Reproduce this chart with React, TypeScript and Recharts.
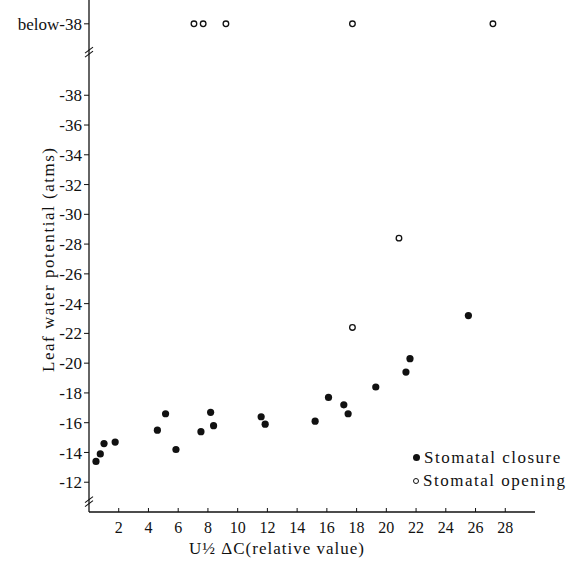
import { ScatterChart, Scatter, XAxis, YAxis, ReferenceDot } from "recharts";

// "below-38" row is drawn at this position on the reversed y scale
const BELOW = -42.8;

const closureX = [0.47, 0.76, 1.01, 1.76, 4.6, 5.15, 5.85, 7.53, 8.18, 8.38, 11.58, 11.85, 15.21, 16.11, 17.14, 17.43, 19.29, 21.32, 21.59, 25.52];
const closureY = [-13.4, -13.9, -14.6, -14.7, -15.5, -16.6, -14.2, -15.4, -16.7, -15.8, -16.4, -15.9, -16.1, -17.7, -17.2, -16.6, -18.4, -19.4, -20.3, -23.2];

const openingX = [7.06, 7.68, 9.21, 17.72, 27.17, 17.72, 20.85];
const openingY = [BELOW, BELOW, BELOW, BELOW, BELOW, -22.4, -28.4];

const xTicks = [2, 4, 6, 8, 10, 12, 14, 16, 18, 20, 22, 24, 26, 28];
const yTicks = [BELOW, -38, -36, -34, -32, -30, -28, -26, -24, -22, -20, -18, -16, -14, -12];
const breaks = [-40.9, -10.7];

const closure = closureX.map((x, i) => ({ x, y: closureY[i] }));
const opening = openingX.map((x, i) => ({ x, y: openingY[i] }));

const FONT = "Times New Roman, Liberation Serif, DejaVu Serif, serif";
const INK = "#111";

const ClosedDot = (p: any) => <circle cx={p.cx} cy={p.cy} r={3.6} fill={INK} />;
const OpenDot = (p: any) => (
	<circle cx={p.cx} cy={p.cy} r={2.8} fill="#fff" stroke={INK} strokeWidth={1.3} />
);

const BreakMark = (p: any) => (
	<g stroke={INK} strokeWidth={1.1}>
		<line x1={p.cx - 4} y1={p.cy + 1} x2={p.cx + 4} y2={p.cy - 5} />
		<line x1={p.cx - 4} y1={p.cy + 5} x2={p.cx + 4} y2={p.cy - 1} />
	</g>
);

const XTick = ({ x, y, payload }: any) => (
	<g>
		<line x1={x} y1={y} x2={x} y2={y - 4} stroke={INK} />
		<text x={x} y={y + 21} textAnchor="middle" fontSize={16} fontFamily={FONT} fill={INK}>
			{payload.value}
		</text>
	</g>
);

// legend sits over the plot, so it is kept out of the chart's layout
const LegendBox = () => (
	<div
		style={{
			position: "absolute",
			left: 413,
			top: 446,
			fontFamily: FONT,
			fontSize: 17,
			color: INK,
			letterSpacing: 1.5,
			lineHeight: "23px"
		}}
	>
		<div>
			<span style={{ display: "inline-block", width: 7, height: 7, borderRadius: 4, background: INK, marginRight: 4, verticalAlign: 2 }} />
			Stomatal closure
		</div>
		<div>
			<span style={{ display: "inline-block", width: 4, height: 4, borderRadius: 4, border: `1.3px solid ${INK}`, marginRight: 4, verticalAlign: 2 }} />
			Stomatal opening
		</div>
	</div>
);

export default function App() {
	return (
		<div style={{ position: "absolute", left: 0, top: 0, width: 583, height: 562, background: "#fff" }}>
			<ScatterChart width={583} height={562} margin={{ top: 0, right: 48, bottom: 20, left: 0 }}>
				<XAxis
					type="number"
					dataKey="x"
					domain={[0, 30]}
					ticks={xTicks}
					height={30}
					tickSize={0}
					tickMargin={0}
					tickLine={false}
					tick={<XTick />}
					axisLine={{ stroke: INK, strokeWidth: 1.3 }}
					label={{
						content: () => (
							<text x={277} y={554} textAnchor="middle" fontSize={17} fontFamily={FONT} fill={INK} letterSpacing={1}>
								U½ ΔC(relative value)
							</text>
						)
					}}
				/>
				<YAxis
					type="number"
					dataKey="y"
					domain={[-44.4, -10]}
					reversed
					ticks={yTicks}
					interval={0}
					width={89}
					tickSize={5}
					tickMargin={2}
					tickFormatter={(v: number) => (v === BELOW ? "below-38" : String(v))}
					tick={{ fontSize: 17, fontFamily: FONT, fill: INK }}
					tickLine={{ stroke: INK }}
					axisLine={{ stroke: INK, strokeWidth: 1.3 }}
					label={{
						content: () => (
							<text
								x={50}
								y={260}
								transform="rotate(-90 50 260)"
								textAnchor="middle"
								dominantBaseline="middle"
								fontSize={17}
								fontFamily={FONT}
								fill={INK}
								textLength={224}
								lengthAdjust="spacing"
							>
								Leaf water potential (atms)
							</text>
						)
					}}
				/>
				{breaks.map((b) => (
					<ReferenceDot key={b} x={0} y={b} shape={BreakMark} ifOverflow="visible" />
				))}
				<Scatter name="Stomatal closure" data={closure} shape={ClosedDot} isAnimationActive={false} />
				<Scatter name="Stomatal opening" data={opening} shape={OpenDot} isAnimationActive={false} />
			</ScatterChart>
			<LegendBox />
		</div>
	);
}
